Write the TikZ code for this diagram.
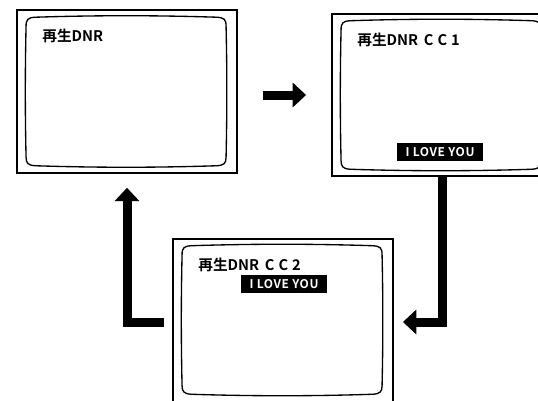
\documentclass[tikz,border=0pt]{standalone}
\usepackage{fontspec}
\newfontfamily\jpfont{Noto Sans CJK JP}[BoldFont={Noto Sans CJK JP Bold}]
\newfontfamily\capfont{Noto Sans CJK JP}[BoldFont={Noto Sans CJK JP Bold},LetterSpace=5]
\usetikzlibrary{arrows.meta,calc,positioning}

\begin{document}
\begin{tikzpicture}[
    x=0.75pt,y=-0.75pt,
    tv/.style   = {draw, line width=1.4pt, minimum width=165pt,
                   minimum height=122pt, inner sep=0pt},
    ttl/.style  = {anchor=west, inner sep=0pt,
                   font=\jpfont\bfseries\fontsize{11}{12}\selectfont},
    sub/.style  = {fill=black, text=white, inner sep=0pt,
                   font=\capfont\bfseries\fontsize{9}{10}\selectfont,
                   minimum width=64.5pt, minimum height=13.5pt},
    big/.style  = {-{Triangle[width=18pt,length=10pt]}, line width=6.75pt},
  ]

  \tikzset{face/.pic={
      \draw[line width=1pt,line join=round]
        (10,17) .. controls (10,10) and (12,8.5) .. (19,8)
        .. controls (80,6) and (140,6) .. (201,8)
        .. controls (208,8.5) and (210,10) .. (210,17)
        .. controls (211,60) and (211,105) .. (210,148)
        .. controls (210,154) and (208,156) .. (201,156.5)
        .. controls (140,158.5) and (80,158.5) .. (19,156.5)
        .. controls (12,156) and (10,154) .. (10,148)
        .. controls (9,105) and (9,60) .. cycle;}}

  \useasboundingbox (0,0) rectangle (538,400);
  \clip (0,0) rectangle (538,400);

  \node[tv] (scr1) at (127,91.5) {};
  \node[tv] (scr2) at (442,95)   {};
  \node[tv,minimum height=125pt] (scr3) at (283,322) {};

  \foreach \s in {scr1,scr2,scr3}
    \pic at (\s.north west) {face};

  \node[ttl] (ttl1) at ($(scr1.north west)+(26,27)$) {再生DNR};
  \node[ttl] (ttl2) at ($(scr2.north west)+(26,27)$)
       {再生DNR\ \,C\kern3pt C\kern3pt 1};
  \node[ttl] (ttl3) at ($(scr3.north west)+(26,27)$)
       {再生DNR\ \,C\kern3pt C\kern3pt 2};

  \node[sub] (sub2) at ($(scr2.north west)+(109,139.5)$) {I LOVE YOU};
  \node[sub] (sub3) at ($(scr3.north west)+(112,46.5)$)  {I LOVE YOU};

  \draw[big,shorten <=18.75pt,shorten >=18.75pt]
       (scr1.east |- scr2.west) -- (scr2.west);
  \draw[big,shorten >=6.75pt] (scr2.south) |- (scr3.east);
  \draw[big,shorten <=6pt,shorten >=10.5pt] (scr3.west) -| (scr1.south);

\end{tikzpicture}
\end{document}
